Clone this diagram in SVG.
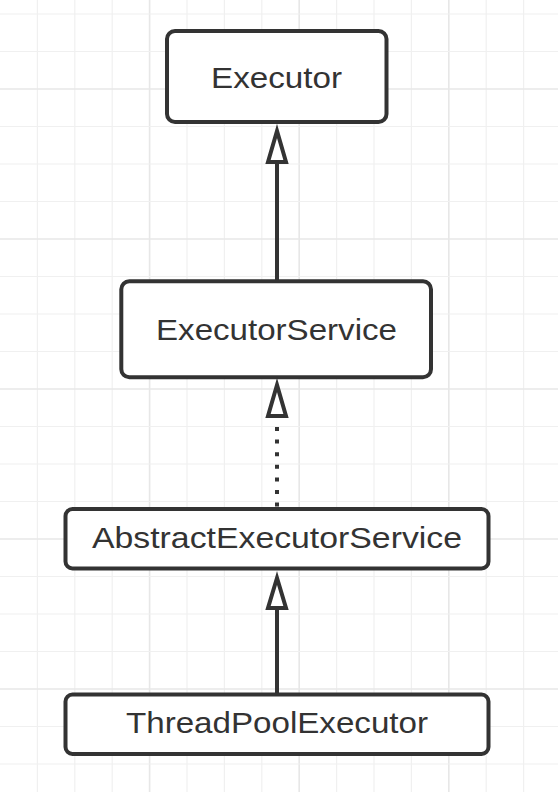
<svg xmlns="http://www.w3.org/2000/svg" width="558" height="792" viewBox="0 0 558 792">
<defs>
<style>
.g{stroke:#f0f0f0;stroke-width:1.2;fill:none}
.G{stroke:#e7e7e7;stroke-width:1.6;fill:none}
.box{fill:#fff;stroke:#333;stroke-width:4}
.t{font-family:"Liberation Sans",Arial,sans-serif;font-size:30px;fill:#333;text-anchor:middle}
.ln{stroke:#333;stroke-width:4;fill:none}
.dot{stroke:#333;stroke-width:4;fill:none;stroke-dasharray:4 8.6}
.ah{fill:#fff;stroke:#333;stroke-width:4;stroke-linejoin:miter}
</style>
</defs>
<rect width="558" height="792" fill="#fff"/>
<g id="grid">
<path class="g" d="M37.4 0V792M74.8 0V792M112.2 0V792M187 0V792M224.4 0V792M261.8 0V792M336.6 0V792M374 0V792M411.4 0V792M486.2 0V792M523.6 0V792"/>
<path class="G" d="M149.6 0V792M299.2 0V792M448.8 0V792"/>
<path class="g" d="M0 14H558M0 51.5H558M0 126.5H558M0 164H558M0 201.5H558M0 276.5H558M0 314H558M0 351.5H558M0 426.5H558M0 464H558M0 501.5H558M0 576.5H558M0 614H558M0 651.5H558M0 726.5H558M0 764H558"/>
<path class="G" d="M0 89H558M0 239H558M0 389H558M0 539H558M0 689H558"/>
</g>
<g id="connectors">
<line class="ln" x1="277" y1="162" x2="277" y2="281"/>
<polygon class="ah" points="277,131 268,162 286,162"/>
<line class="dot" x1="277" y1="427" x2="277" y2="507"/>
<polygon class="ah" points="277,385 268,416 286,416"/>
<line class="ln" x1="277" y1="608" x2="277" y2="694"/>
<polygon class="ah" points="277,578 268,608 286,608"/>
</g>
<g id="executor">
<rect class="box" x="167" y="31" width="219.5" height="91" rx="8"/>
<text class="t" x="276.5" y="88" textLength="131" lengthAdjust="spacingAndGlyphs">Executor</text>
</g>
<g id="executorService">
<rect class="box" x="121.3" y="281.3" width="309.7" height="96" rx="8"/>
<text class="t" x="276.5" y="340" textLength="241" lengthAdjust="spacingAndGlyphs">ExecutorService</text>
</g>
<g id="abstractExecutorService">
<rect class="box" x="65.5" y="509" width="423" height="59.5" rx="7"/>
<text class="t" x="277" y="547.5" textLength="370" lengthAdjust="spacingAndGlyphs">AbstractExecutorService</text>
</g>
<g id="threadPoolExecutor">
<rect class="box" x="65.5" y="694.5" width="423" height="59.5" rx="7"/>
<text class="t" x="277" y="733.3" textLength="302" lengthAdjust="spacingAndGlyphs">ThreadPoolExecutor</text>
</g>
</svg>
